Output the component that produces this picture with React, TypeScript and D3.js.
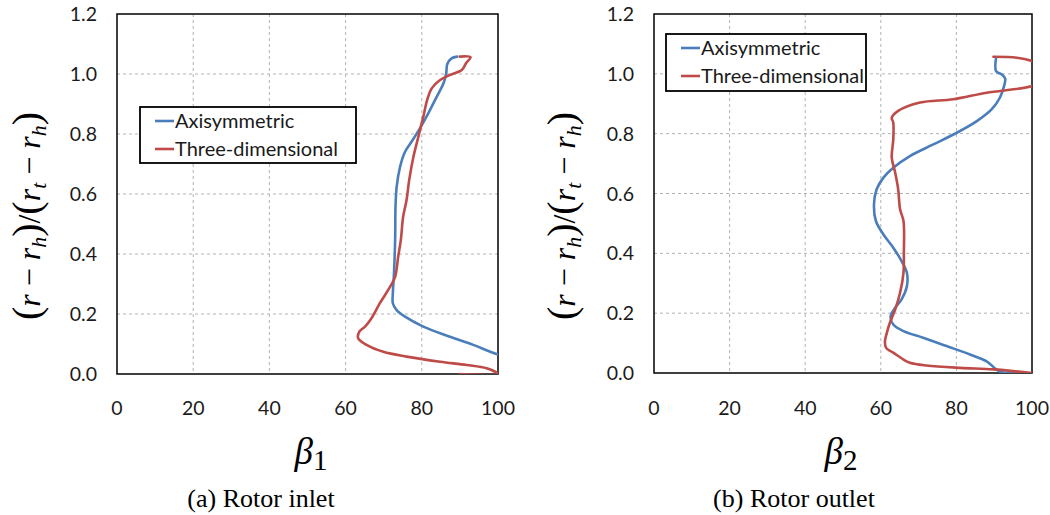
import React from "react";
import * as d3 from "d3";

type Pt = [number, number];

const xTicks = [0, 20, 40, 60, 80, 100];
const yTicks = [0, 0.2, 0.4, 0.6, 0.8, 1.0, 1.2];
const gridX = [20, 40, 60, 80];
const gridY = [0.2, 0.4, 0.6, 0.8, 1.0];
const seriesNames = ["Axisymmetric", "Three-dimensional"];
const seriesColors = ["#4a7ebb", "#be4b48"];

// [beta, (r-rh)/(rt-rh)]
const inletAxisymmetric: Pt[] = [
  [112, 0.02], [99.8, 0.066], [93.5, 0.097], [87.4, 0.124], [80.4, 0.158], [75.6, 0.191],
  [73.4, 0.213], [72.4, 0.236], [72.4, 0.269], [72.7, 0.336], [73.0, 0.447],
  [73.1, 0.558], [73.4, 0.624], [74.3, 0.691], [75.6, 0.741], [77.3, 0.774],
  [79.5, 0.819], [81.7, 0.869], [83.9, 0.924], [85.7, 0.969], [86.4, 1.002],
  [86.7, 1.033], [87.8, 1.052], [89.3, 1.058],
];
const inletThreeDim: Pt[] = [
  [90.0, 0.0], [100, 0.0], [97.0, 0.019], [91.8, 0.03], [84.8, 0.041], [76.0, 0.058],
  [69.9, 0.074], [65.5, 0.097], [63.3, 0.119], [63.6, 0.141], [65.1, 0.158],
  [66.8, 0.186], [69.0, 0.236], [71.7, 0.291], [73.0, 0.324], [73.8, 0.391],
  [74.5, 0.447], [75.1, 0.524], [76.0, 0.58], [76.7, 0.647], [77.8, 0.724],
  [79.1, 0.791], [80.4, 0.858], [81.4, 0.913], [82.6, 0.952], [84.8, 0.98],
  [87.4, 0.997], [90.5, 1.013], [91.6, 1.036], [92.8, 1.056], [90.0, 1.058],
];
const outletAxisymmetric: Pt[] = [
  [96, 0.0], [91.5, 0.005], [88.0, 0.039], [83.6, 0.062], [77.4, 0.09], [71.2, 0.118],
  [66.0, 0.14], [63.3, 0.162], [62.6, 0.19], [63.8, 0.218], [65.5, 0.246],
  [66.9, 0.29], [66.9, 0.335], [65.5, 0.374], [63.3, 0.419], [60.7, 0.463],
  [58.7, 0.508], [58.2, 0.564], [58.9, 0.614], [60.7, 0.653], [63.3, 0.686],
  [67.7, 0.725], [73.9, 0.764], [80.1, 0.803], [85.4, 0.842], [89.3, 0.881],
  [91.5, 0.92], [92.6, 0.959], [92.9, 0.984], [92.0, 0.998], [90.5, 1.009],
  [90.5, 1.054],
];
const outletThreeDim: Pt[] = [
  [100, 0.0], [89.8, 0.012], [81.0, 0.017], [72.1, 0.025], [67.7, 0.034],
  [66.0, 0.045], [63.3, 0.068], [61.4, 0.084], [61.1, 0.106], [61.6, 0.134],
  [62.4, 0.168], [63.8, 0.212], [65.1, 0.268], [66.0, 0.335], [66.1, 0.402],
  [66.0, 0.508], [65.1, 0.547], [64.6, 0.614], [63.8, 0.67], [62.9, 0.72],
  [63.3, 0.781], [63.3, 0.837], [62.9, 0.853], [64.6, 0.876], [70.4, 0.904],
  [79.2, 0.915], [88.0, 0.937], [100, 0.959], [108, 1.0], [100, 1.043],
  [96.0, 1.054], [89.8, 1.057],
];

const panels = [
  {
    id: "a",
    x0: 117, x1: 498, y0: 374, y1: 14,
    series: [inletAxisymmetric, inletThreeDim],
    sub: "1",
    caption: "(a) Rotor inlet",
    captionX: 261,
    betaX: 311,
    yTitleX: 30,
    legend: { x: 140, y: 107, w: 216, h: 56 },
  },
  {
    id: "b",
    x0: 654, x1: 1032, y0: 373, y1: 14,
    series: [outletAxisymmetric, outletThreeDim],
    sub: "2",
    caption: "(b) Rotor outlet",
    captionX: 794,
    betaX: 841,
    yTitleX: 565,
    legend: { x: 666, y: 34, w: 200, h: 57 },
  },
];

const tickFont = "Lato, 'Open Sans', sans-serif";
const serif = "'Liberation Serif', 'DejaVu Serif', serif";

function Panel({ p }: { p: (typeof panels)[number] }) {
  const x = d3.scaleLinear().domain([0, 100]).range([p.x0, p.x1]);
  const y = d3.scaleLinear().domain([0, 1.2]).range([p.y0, p.y1]);
  const line = d3
    .line<Pt>()
    .x((d) => x(d[0]))
    .y((d) => y(d[1]))
    .curve(d3.curveCatmullRom.alpha(0.5));
  const clipId = `clip-${p.id}`;
  return (
    <g>
      <defs>
        <clipPath id={clipId}>
          <rect x={p.x0} y={p.y1} width={p.x1 - p.x0} height={p.y0 - p.y1} />
        </clipPath>
      </defs>
      {gridX.map((v) => (
        <line key={"gx" + v} x1={x(v)} x2={x(v)} y1={p.y1} y2={p.y0}
          stroke="#b3b3b3" strokeWidth={1} strokeDasharray="3,3" />
      ))}
      {gridY.map((v) => (
        <line key={"gy" + v} x1={p.x0} x2={p.x1} y1={y(v)} y2={y(v)}
          stroke="#b3b3b3" strokeWidth={1} strokeDasharray="3,3" />
      ))}
      <rect x={p.x0} y={p.y1} width={p.x1 - p.x0} height={p.y0 - p.y1}
        fill="none" stroke="#000" strokeWidth={1.5} />
      <g clipPath={`url(#${clipId})`}>
        {p.series.map((s, i) => (
          <path key={i} d={line(s) || ""} fill="none" stroke={seriesColors[i]}
            strokeWidth={2.6} strokeLinejoin="round" strokeLinecap="round" />
        ))}
      </g>
      {yTicks.map((v) => (
        <text key={"yt" + v} x={p.x0 - 20} y={y(v)} dy="0.36em" textAnchor="end"
          fontFamily={tickFont} fontSize={19.5} fill="#1a1a1a">
          {v.toFixed(1)}
        </text>
      ))}
      {xTicks.map((v) => (
        <text key={"xt" + v} x={x(v)} y={415} textAnchor="middle"
          fontFamily={tickFont} fontSize={19.5} fill="#1a1a1a">
          {v}
        </text>
      ))}
      {/* legend */}
      <rect x={p.legend.x} y={p.legend.y} width={p.legend.w} height={p.legend.h}
        fill="#fff" stroke="#000" strokeWidth={1.8} />
      {seriesNames.map((n, i) => {
        const ly = p.legend.y + 14 + i * 28;
        return (
          <g key={n}>
            <line x1={p.legend.x + 15} x2={p.legend.x + 34} y1={ly} y2={ly}
              stroke={seriesColors[i]} strokeWidth={2.6} />
            <text x={p.legend.x + 35} y={ly} dy="0.36em" fontFamily={tickFont}
              fontSize={20} fill="#1a1a1a">
              {n}
            </text>
          </g>
        );
      })}
      {/* y-axis title */}
      <text transform={`translate(${p.yTitleX},${216}) rotate(-90)`} textAnchor="middle"
        fontFamily={serif} fontSize={32} fill="#000" dy="0.3em">
        <tspan fontSize={40}>(</tspan>
        <tspan fontStyle="italic">r</tspan>
        <tspan> − </tspan>
        <tspan fontStyle="italic">r</tspan>
        <tspan fontStyle="italic" fontSize={22} dy={6}>h</tspan>
        <tspan fontSize={40} dy={-6}>)</tspan>
        <tspan>/</tspan>
        <tspan fontSize={40}>(</tspan>
        <tspan fontStyle="italic">r</tspan>
        <tspan fontStyle="italic" fontSize={22} dy={6}>t</tspan>
        <tspan dy={-6}> − </tspan>
        <tspan fontStyle="italic">r</tspan>
        <tspan fontStyle="italic" fontSize={22} dy={6}>h</tspan>
        <tspan fontSize={40} dy={-6}>)</tspan>
      </text>
      {/* x-axis title */}
      <text x={p.betaX} y={464} textAnchor="middle" fontFamily={serif} fill="#000">
        <tspan fontStyle="italic" fontSize={37}>β</tspan>
        <tspan fontSize={29} dy={6}>{p.sub}</tspan>
      </text>
      <text x={p.captionX} y={507} textAnchor="middle" fontFamily={serif} fontSize={26} fill="#000">
        {p.caption}
      </text>
    </g>
  );
}

export default function App() {
  return (
    <svg width={1050} height={515} style={{ position: "absolute", left: 0, top: 0, background: "#fff" }}>
      <rect width={1050} height={515} fill="#fff" />
      {panels.map((p) => (
        <Panel key={p.id} p={p} />
      ))}
    </svg>
  );
}
